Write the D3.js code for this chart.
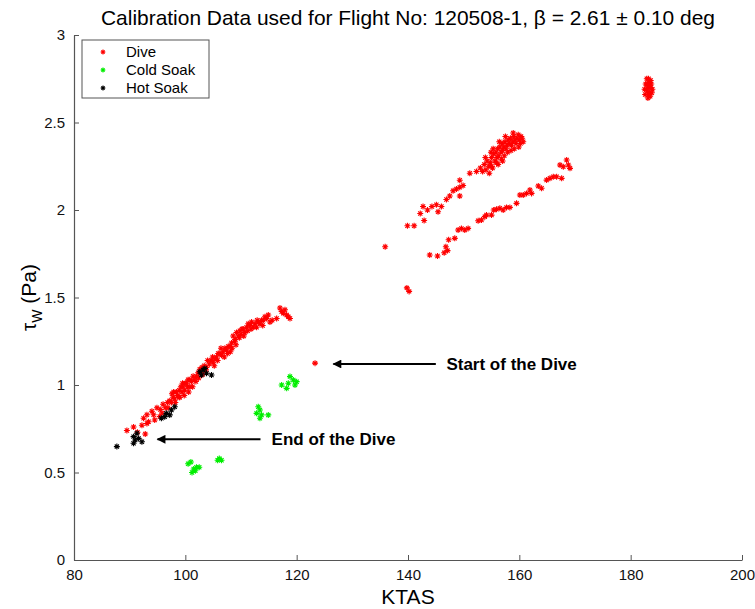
<!DOCTYPE html>
<html>
<head>
<meta charset="utf-8">
<script src="https://cdn.jsdelivr.net/npm/d3@7"></script>
<style>
  body { margin: 0; background: #fff; }
  text { font-family: "Liberation Sans", Arial, sans-serif; }
</style>
</head>
<body>
<div id="chart"></div>
<script>
// data: [KTAS, tau_w (Pa)]
const dive = [
  [89.5,0.74],[90.7,0.76],[91.4,0.73],[92.2,0.77],[92.8,0.72],[93.1,0.78],[93.4,0.79],[93.1,0.83],
  [94.0,0.85],[94.5,0.80],[94.9,0.87],[95.4,0.82],[95.8,0.84],[96.0,0.89],[96.4,0.87],[96.8,0.90],
  [97.2,0.91],[97.5,0.90],[97.8,0.93],[97.6,0.95],[98.1,0.92],[98.4,0.96],[98.6,0.94],[98.9,0.97],
  [99.0,0.93],[99.2,0.99],[99.4,0.96],[99.6,0.99],[99.9,0.97],[100.0,1.01],[100.2,1.01],[100.4,0.99],
  [100.5,1.03],[100.8,1.03],[100.8,0.99],[101.1,1.02],[101.4,1.05],[101.6,1.03],[102.0,1.05],[102.3,1.07],
  [102.6,1.09],[103.0,1.10],[103.4,1.11],[103.8,1.10],[104.3,1.12],[104.6,1.14],[105.0,1.13],[105.3,1.15],
  [105.6,1.16],[105.9,1.18],[106.2,1.18],[106.5,1.17],[106.8,1.19],[107.1,1.21],[107.4,1.20],[107.7,1.22],
  [108.0,1.22],[108.3,1.24],[108.1,1.19],[108.6,1.28],[108.8,1.25],[109.0,1.26],[109.2,1.30],[109.5,1.28],
  [109.8,1.31],[110.0,1.29],[110.2,1.32],[110.4,1.32],[110.7,1.30],[111.0,1.33],[111.3,1.35],[111.6,1.34],
  [111.9,1.36],[112.2,1.33],[112.5,1.35],[112.8,1.33],[113.1,1.36],[113.4,1.35],[113.7,1.37],[114.0,1.37],
  [114.3,1.39],[114.6,1.38],[115.2,1.36],[115.6,1.37],[117.0,1.44],[117.3,1.42],[117.6,1.41],[117.9,1.43],
  [118.2,1.40],[118.5,1.39],[118.8,1.38],[123.3,1.125],
  [92.5,0.81],[94.3,0.83],[95.5,0.86],[96.9,0.87],[97.9,0.96],[98.2,0.90],[98.9,0.93],[99.5,1.01],
  [99.8,0.94],[100.6,0.96],[101.3,0.99],[101.9,1.02],[102.4,1.04],[103.1,1.06],[103.7,1.08],[104.0,1.14],
  [104.9,1.16],[105.2,1.11],[105.8,1.14],[106.4,1.21],[107.0,1.16],[107.6,1.18],[108.4,1.21],[109.1,1.23],
  [109.7,1.27],[110.5,1.28],[111.2,1.31],[111.8,1.32],[112.9,1.37],[113.9,1.34],[114.9,1.40],[116.4,1.38],
  [135.9,1.79],[139.8,1.555],[140.2,1.535],[139.9,1.91],[141.1,1.91],[142.2,1.98],[142.9,1.94],[142.7,2.02],
  [143.5,2.00],[144.3,2.02],[145.1,2.03],[145.4,1.99],[146.0,2.02],[146.9,2.06],[147.5,2.08],[148.1,2.11],
  [148.7,2.12],[149.3,2.13],[149.9,2.14],[149.3,2.17],[149.3,2.08],[151.1,2.21],[152.3,2.22],[153.0,2.24],
  [153.4,2.22],[153.7,2.26],[154.0,2.23],[154.2,2.28],[154.5,2.25],[154.8,2.27],[155.0,2.30],[155.2,2.24],
  [155.4,2.32],[155.6,2.28],[155.8,2.33],[156.0,2.30],[156.1,2.35],[156.3,2.31],[156.5,2.36],[156.7,2.33],
  [156.9,2.38],[157.0,2.34],[157.2,2.36],[157.4,2.39],[157.6,2.35],[157.8,2.37],[158.0,2.40],[158.2,2.38],
  [158.4,2.41],[158.6,2.37],[158.8,2.39],[159.0,2.42],[159.2,2.40],[159.4,2.38],[159.6,2.41],[159.8,2.43],
  [160.0,2.40],[160.3,2.42],[160.5,2.41],[157.3,2.31],[156.2,2.26],[158.5,2.34],[159.9,2.36],[155.0,2.25],
  [154.6,2.21],[155.9,2.27],[156.8,2.29],[157.9,2.33],[159.1,2.35],[158.9,2.44],[157.5,2.42],[156.4,2.39],
  [154.9,2.33],[153.9,2.30],[155.3,2.35],[160.2,2.38],[160.7,2.39],[157.0,2.28],
  [143.9,1.743],[145.3,1.737],[146.5,1.756],[147.1,1.768],[146.8,1.79],[147.3,1.83],[148.4,1.838],[149.0,1.886],
  [149.6,1.895],[150.2,1.886],[150.8,1.895],[152.6,1.939],[153.2,1.943],[153.8,1.962],[154.1,1.971],[155.0,1.971],
  [155.4,2.00],[155.9,2.004],[156.5,2.01],[157.1,2.00],[157.7,2.015],[158.3,2.015],[159.5,2.038],[160.1,2.086],
  [160.7,2.086],[161.3,2.095],[162.2,2.095],[161.9,2.114],[163.4,2.137],[164.0,2.124],[164.9,2.171],[165.5,2.181],
  [166.1,2.19],[166.7,2.19],[167.6,2.181],[167.3,2.257],[167.9,2.247],[168.5,2.286],[168.8,2.257],[169.1,2.238],
  [182.6,2.66],[182.8,2.69],[183.0,2.72],[183.2,2.75],[183.4,2.73],[183.6,2.70],[183.8,2.67],[183.5,2.65],
  [183.1,2.64],[182.7,2.72],[183.0,2.68],[183.3,2.70],[183.6,2.74],[183.2,2.66],[182.9,2.75],[183.7,2.72],
  [182.5,2.69],[183.4,2.67],[183.9,2.69],[183.1,2.71]
];

const coldSoak = [
  [100.5,0.55],[101.0,0.56],[101.5,0.52],[101.2,0.50],[102.0,0.53],[102.5,0.53],[101.8,0.51],
  [105.8,0.57],[106.1,0.58],[106.5,0.57],
  [113.4,0.857],[112.8,0.838],[113.7,0.829],[114.9,0.829],[113.4,0.81],[113.1,0.876],
  [118.8,1.048],[119.4,1.029],[117.3,1.00],[118.5,1.01],[119.7,1.00],[120.0,1.019],[118.2,0.981]
];

const hotSoak = [
  [87.7,0.648],[90.7,0.705],[91.0,0.686],[91.3,0.724],[90.7,0.667],[91.6,0.695],[92.2,0.676],
  [96.3,0.819],[96.6,0.838],[97.2,0.829],[95.7,0.81],[98.1,0.876],[97.5,0.857],
  [102.6,1.076],[103.2,1.086],[103.8,1.067],[103.5,1.095],[104.7,1.057],[102.9,1.057]
];

const seriesNames = ["Dive", "Cold Soak", "Hot Soak"];
const seriesColors = ["#ff0000", "#00ee00", "#000000"];

const xTicks = [80, 100, 120, 140, 160, 180, 200];
const yTicks = [0, 0.5, 1, 1.5, 2, 2.5, 3];

// annotation arrows: label, arrow tip x, arrow tail x, label x, y
const notes = [
  { label: "Start of the Dive", tip: 126.6, tail: 145.0, textX: 146.9, y: 1.12 },
  { label: "End of the Dive", tip: 95.0, tail: 113.5, textX: 115.5, y: 0.69 }
];

const W = 755, H = 609;
const margin = { top: 35, right: 13, bottom: 49, left: 74 };
const width = W - margin.left - margin.right;
const height = H - margin.top - margin.bottom;

const svg = d3.select("#chart").append("svg")
  .attr("width", W)
  .attr("height", H);

const g = svg.append("g")
  .attr("transform", `translate(${margin.left},${margin.top})`);

const x = d3.scaleLinear().domain([80, 200]).range([0, width]);
const y = d3.scaleLinear().domain([0, 3]).range([height, 0]);

// axes, MATLAB style ticks pointing inwards
const xAxis = g.append("g")
  .attr("transform", `translate(0,${height})`)
  .call(d3.axisBottom(x).tickValues(xTicks).tickSizeInner(-5).tickSizeOuter(0).tickPadding(9));
const yAxis = g.append("g")
  .call(d3.axisLeft(y).tickValues(yTicks).tickSizeInner(-5).tickSizeOuter(0).tickPadding(9).tickFormat(d3.format("")));

[xAxis, yAxis].forEach(a => {
  a.select(".domain").attr("stroke", "#555").attr("stroke-width", 1.2);
  a.selectAll(".tick line").attr("stroke", "#555");
  a.selectAll(".tick text").attr("fill", "#111").style("font-size", "15px");
});

// asterisk marker
function star(s) {
  const d = s * 0.7;
  return `M${-s},0H${s}M0,${-s}V${s}M${-d},${-d}L${d},${d}M${-d},${d}L${d},${-d}`;
}

const allSeries = [dive, coldSoak, hotSoak];
allSeries.forEach((data, i) => {
  g.append("g")
    .selectAll("path")
    .data(data)
    .join("path")
    .attr("transform", d => `translate(${x(d[0])},${y(d[1])})`)
    .attr("d", star(3))
    .attr("stroke", seriesColors[i])
    .attr("stroke-width", 1.1)
    .attr("fill", "none");
});

// arrows
svg.append("defs").append("marker")
  .attr("id", "head")
  .attr("viewBox", "0 0 10 10")
  .attr("refX", 9)
  .attr("refY", 5)
  .attr("markerWidth", 6)
  .attr("markerHeight", 4)
  .attr("orient", "auto")
  .append("path")
  .attr("d", "M0,0L10,5L0,10Z")
  .attr("fill", "#000");

notes.forEach(n => {
  g.append("line")
    .attr("x1", x(n.tail))
    .attr("x2", x(n.tip))
    .attr("y1", y(n.y))
    .attr("y2", y(n.y))
    .attr("stroke", "#000")
    .attr("stroke-width", 2.2)
    .attr("marker-end", "url(#head)");
  g.append("text")
    .attr("x", x(n.textX))
    .attr("y", y(n.y) + 6)
    .style("font-size", "17px")
    .style("font-weight", "bold")
    .text(n.label);
});

// legend
const legend = g.append("g").attr("transform", "translate(8,5)");
legend.append("rect")
  .attr("width", 127)
  .attr("height", 58)
  .attr("fill", "#fff")
  .attr("stroke", "#555");
seriesNames.forEach((name, i) => {
  legend.append("path")
    .attr("transform", `translate(21,${12 + i * 18})`)
    .attr("d", star(2.4))
    .attr("stroke", seriesColors[i])
    .attr("stroke-width", 1.1);
  legend.append("text")
    .attr("x", 44)
    .attr("y", 17 + i * 18)
    .style("font-size", "15px")
    .text(name);
});

// title and axis labels
svg.append("text")
  .attr("x", margin.left + width / 2)
  .attr("y", 25)
  .attr("text-anchor", "middle")
  .attr("textLength", 614)
  .attr("lengthAdjust", "spacingAndGlyphs")
  .style("font-size", "21px")
  .text("Calibration Data used for Flight No: 120508-1, \u03b2 = 2.61 \u00b1 0.10 deg");

svg.append("text")
  .attr("x", margin.left + width / 2)
  .attr("y", 604)
  .attr("text-anchor", "middle")
  .style("font-size", "21px")
  .text("KTAS");

const yl = svg.append("text")
  .attr("transform", `translate(36,${margin.top + height / 2}) rotate(-90)`)
  .attr("text-anchor", "middle")
  .style("font-size", "21px");
yl.append("tspan").text("\u03c4");
yl.append("tspan").attr("dy", 6).style("font-size", "14px").text("W");
yl.append("tspan").attr("dy", -6).text(" (Pa)");
</script>
</body>
</html>
